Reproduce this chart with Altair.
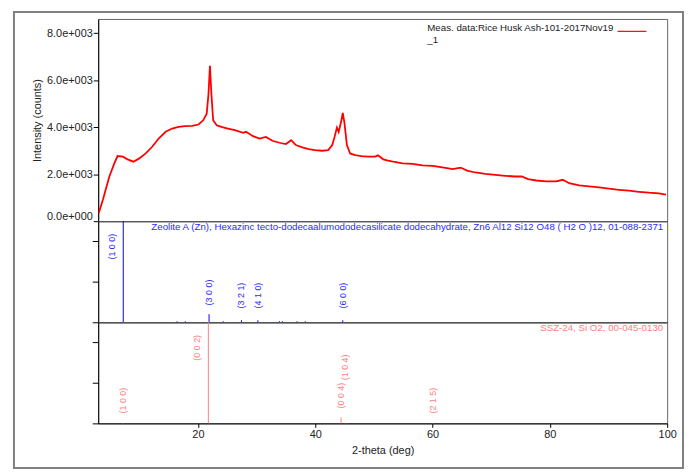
import altair as alt
import pandas as pd

two_theta = [3.1, 3.8, 4.9, 5.75, 6.3, 7.2, 8.0, 9.0, 10.0, 11.1,
             12.2, 13.3, 14.5, 15.6, 16.7, 17.8, 19.0, 20.1, 20.9, 21.5,
             21.8, 22.05, 22.3, 22.6, 23.2, 24.0, 25.1, 26.3, 27.7, 28.2,
             29.4, 30.5, 31.6, 32.7, 33.9, 35.0, 35.9, 36.7, 37.8, 38.9,
             40.0, 41.2, 42.2, 42.9, 43.3, 43.7, 44.0, 44.4, 44.7, 45.0,
             45.4, 45.95, 46.8, 47.9, 49.0, 50.2, 50.7, 51.6, 52.4, 53.3,
             54.9, 56.6, 58.3, 60.0, 61.7, 63.4, 64.8, 65.9, 67.3, 69.0,
             70.7, 72.4, 74.0, 75.2, 76.3, 77.7, 79.4, 81.1, 82.2, 83.3,
             85.0, 86.7, 88.4, 90.1, 91.8, 93.5, 95.2, 96.9, 98.6, 99.8]
counts = [350, 915, 1900, 2460, 2770, 2745, 2630, 2530, 2670, 2880,
          3165, 3515, 3800, 3940, 4010, 4040, 4050, 4110, 4290, 4570,
          5410, 6610, 5410, 4290, 4080, 4010, 3940, 3870, 3755, 3800,
          3615, 3515, 3585, 3420, 3335, 3280, 3445, 3235, 3135, 3065,
          3025, 2995, 3025, 3235, 3585, 3980, 3800, 4220, 4600, 4150,
          3235, 2880, 2810, 2770, 2745, 2745, 2800, 2630, 2575, 2530,
          2460, 2435, 2375, 2350, 2290, 2210, 2280, 2150, 2070, 2010,
          1970, 1930, 1900, 1900, 1785, 1730, 1690, 1690, 1760, 1615,
          1520, 1475, 1435, 1380, 1335, 1295, 1250, 1210, 1180, 1125]
series_name = "Meas. data:Rice Husk Ash-101-2017Nov19"

# ---- reference pattern: Zeolite A (Zn) ----
zeo_pos = [7.27, 16.45, 17.85, 21.9, 24.3, 27.42, 30.22, 33.9, 34.4, 36.9, 38.3, 44.69]
zeo_int = [100, 1, 1, 8, 1, 2, 2, 1, 1, 1, 1, 2]
zeo_hkl = ["(1 0 0)", "", "", "(3 0 0)", "", "(3 2 1)", "(4 1 0)", "", "", "", "", "(6 0 0)"]
zeo_title = ("Zeolite A (Zn), Hexazinc tecto-dodecaalumododecasilicate dodecahydrate, "
             "Zn6 Al12 Si12 O48 ( H2 O )12, 01-088-2371")

# ---- reference pattern: SSZ-24 ----
ssz_pos = [7.2, 21.78, 44.4, 45.15, 60.0]
ssz_int = [0.5, 100, 6, 0.5, 0.5]
ssz_hkl = ["(1 0 0)", "(0 0 2)", "(0 0 4)", "(1 0 4)", "(2 1 5)"]
ssz_title = "SSZ-24, Si O2, 00-045-0130"

FONT = "Liberation Sans"
X_DOMAIN = [3, 100]
W = 574


def stick_table(pos, inten, hkl, floor):
    """Label anchors derived from the stick data (label sits above its line)."""
    rows = []
    prev_pos, prev_y = None, None
    for p, i, h in zip(pos, inten, hkl):
        lx, ly = p, max(i + 8.7, floor)
        if i >= 90:              # tall line: label beside it, near the top
            lx, ly = p - 1.85, 62.0
        if h and prev_pos is not None and abs(p - prev_pos) < 1.5:
            ly = prev_y + 28.0   # stack labels that would collide
        rows.append(dict(pos=p, inten=i, hkl=h, lx=lx, ly=ly))
        if h:
            prev_pos, prev_y = p, ly
    return pd.DataFrame(rows)


meas = pd.DataFrame({"tt": two_theta, "cnt": counts, "series": series_name})
zeo = stick_table(zeo_pos, zeo_int, zeo_hkl, 13.7)
ssz = stick_table(ssz_pos, ssz_int, ssz_hkl, 9.8)

xs = alt.Scale(domain=X_DOMAIN, nice=False, zero=False)
x_hidden = alt.Axis(labels=False, ticks=False, title=None, grid=False,
                    domainColor="black")

# ---- top panel ----
line = alt.Chart(meas).mark_line(strokeWidth=1.8, clip=True).encode(
    x=alt.X("tt:Q", scale=xs, axis=x_hidden),
    y=alt.Y("cnt:Q", scale=alt.Scale(domain=[0, 8600], nice=False),
            axis=alt.Axis(values=[0, 2000, 4000, 6000, 8000],
                          labelExpr="datum.value == 0 ? '0.0e+000' : format(datum.value / 1000, '.1f') + 'e+003'",
                          title="Intensity (counts)", grid=False, tickSize=5,
                          labelPadding=1, labelFontSize=11, titleFontSize=11,
                          titleFontWeight="normal", labelFlush=True,
                          domainColor="black", tickColor="black",
                          labelColor="#222", titleColor="#222", titlePadding=4)),
    color=alt.Color("series:N", scale=alt.Scale(range=["#ff0000"]),
                    legend=alt.Legend(title=None, orient="none", legendX=523, legendY=-3,
                                      symbolType="stroke", symbolSize=841,
                                      symbolStrokeWidth=1.2, labelAlign="left",
                                      labelOffset={"expr": "-222"}, labelFontSize=9.8,
                                      labelLimit=400, labelColor="#222",
                                      labelBaseline="alphabetic",
                                      labelExpr="[datum.label, '_1']")),
)

frame = alt.Chart(pd.DataFrame({"f": [0]})).mark_rect(
    filled=False, stroke="#808080", strokeWidth=2
).encode(x=alt.value(-85), x2=alt.value(590), y=alt.value(-7), y2=alt.value(453))

top = alt.layer(frame, line).properties(width=W, height=204)


def stick_panel(df, title, line_color, text_color, show_x):
    if show_x:
        xaxis = alt.Axis(values=[20, 40, 60, 80, 100], tickSize=4, labelPadding=1,
                         labelFontSize=11, labelFlush=False, title="2-theta (deg)",
                         titleFontSize=11, titleFontWeight="normal", titlePadding=5,
                         grid=False, domainColor="black", tickColor="black",
                         labelColor="#222", titleColor="#222")
    else:
        xaxis = x_hidden
    ys = alt.Scale(domain=[0, 100], nice=False)
    yaxis = alt.Axis(values=[0, 20, 40, 60, 80, 100], labels=False, title=None,
                     tickSize=6, grid=False, domainColor="black", tickColor="black")
    rules = alt.Chart(df).mark_rule(color=line_color, strokeWidth=1).encode(
        x=alt.X("pos:Q", scale=xs, axis=xaxis),
        y=alt.Y("inten:Q", scale=ys, axis=yaxis),
        y2=alt.datum(0),
    )
    labels = alt.Chart(df).transform_filter("datum.hkl != ''").mark_text(
        angle=270, align="left", baseline="middle", fontSize=9, color=text_color
    ).encode(x=alt.X("lx:Q", scale=xs), y=alt.Y("ly:Q", scale=ys), text="hkl:N")
    return alt.layer(rules, labels).properties(
        width=W, height=102,
        title=alt.TitleParams(title, anchor="end", orient="top", frame="group",
                              offset=-16, baseline="middle", fontSize=9.8,
                              fontWeight="normal", color=text_color, dx=-4),
    )


mid = stick_panel(zeo, zeo_title, "#0000ff", "#2b2bff", False)
bot = stick_panel(ssz, ssz_title, "#ff7f7f", "#ff8080", True)

chart = alt.vconcat(top, mid, bot, spacing=0, bounds="flush").resolve_scale(
    y="independent", x="shared"
).properties(
    padding={"left": 4, "top": 0, "right": 0, "bottom": 0}
).configure(font=FONT).configure_view(stroke="#666", strokeWidth=1)

chart.save("out.html", embed_options={"renderer": "svg", "actions": False})
